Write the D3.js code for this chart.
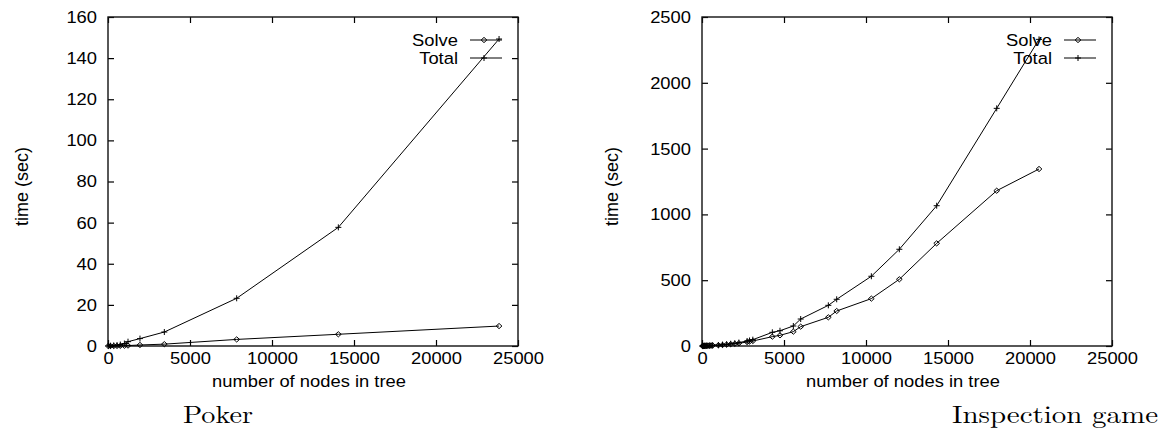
<!DOCTYPE html>
<html>
<head>
<meta charset="utf-8">
<script src="https://cdn.jsdelivr.net/npm/d3@7"></script>
<style>
  body { margin: 0; background: #fff; }
  svg { display: block; }
  .tick line { stroke: #000; }
  text { fill: #000; }
</style>
</head>
<body>
<div id="chart"></div>
<script>
// --- data ---
const pokerNodes = [20, 150, 350, 550, 750, 1000, 1220, 1950, 3435, 7846, 14045, 23845];
const pokerTotal = [0.02, 0.1, 0.25, 0.45, 0.7, 1.2, 2.1, 3.6, 6.8, 23.2, 57.7, 149.3];
const pokerSolve = [0.0, 0.01, 0.03, 0.05, 0.08, 0.12, 0.2, 0.5, 0.9, 3.2, 5.7, 9.7];

const inspNodes = [30, 60, 100, 150, 200, 280, 360, 450, 550, 650, 1000, 1250, 1500, 1750, 2000, 2250,
  2750, 2900, 3100, 4289, 4756, 5569, 6018, 7703, 8213, 10326, 12033, 14310, 17970, 20550];
const inspTotal = [0, 0.3, 0.6, 1, 1.4, 2, 2.6, 3.2, 4, 5, 7, 10, 13, 17, 21, 26,
  38, 42, 48, 104, 116, 152, 205, 309, 355, 530, 735, 1066, 1806, 2330];
const inspSolve = [0, 0.25, 0.5, 0.8, 1.1, 1.6, 2.1, 2.6, 3.3, 4, 6, 8, 11, 14, 17, 21,
  30, 34, 38, 71, 81, 109, 147, 218, 266, 360, 507, 780, 1180, 1345];

const xTicks = [0, 5000, 10000, 15000, 20000, 25000];
const pokerYTicks = [0, 20, 40, 60, 80, 100, 120, 140, 160];
const inspYTicks = [0, 500, 1000, 1500, 2000, 2500];
const seriesNames = ["Solve", "Total"];
const titles = ["Poker", "Inspection game"];

const W = 1161, H = 432;
const SX = 1.08; // the figure is stretched sideways a bit
const FS = 17;
const fmt = d3.format("d");

const svg = d3.select("#chart").append("svg")
  .attr("width", W).attr("height", H)
  .style("font-family", "'Liberation Sans', Arial, sans-serif");

function diamond(g, x, y) {
  let r = 2.6;
  g.append("path")
    .attr("d", `M${x - r * 1.1},${y}L${x},${y - r}L${x + r * 1.1},${y}L${x},${y + r}Z`)
    .attr("fill", "none").attr("stroke", "#000").attr("stroke-width", 1);
}
function plus(g, x, y) {
  let r = 3;
  g.append("path")
    .attr("d", `M${x - r},${y}H${x + r}M${x},${y - r}V${y + r}`)
    .attr("stroke", "#000").attr("stroke-width", 1);
}

function panel(opts) {
  let pw = 410, ph = 329;
  let g = svg.append("g").attr("transform", `translate(${opts.left} 17)`);

  let x = d3.scaleLinear().domain([0, 25000]).range([0, pw]);
  let y = d3.scaleLinear().domain([0, opts.ymax]).range([ph, 0]);

  // axes with inward ticks
  let ax = g.append("g").attr("transform", `translate(0 ${ph})`)
    .call(d3.axisBottom(x).tickValues(xTicks).tickFormat(fmt)
      .tickSizeInner(-6).tickSizeOuter(0).tickPadding(18));
  let ay = g.append("g")
    .call(d3.axisLeft(y).tickValues(opts.yticks).tickFormat(fmt)
      .tickSizeInner(-6).tickSizeOuter(0).tickPadding(11));
  g.append("g").attr("transform", `translate(${pw} 0)`)
    .call(d3.axisRight(y).tickValues(opts.yticks).tickSizeInner(-6).tickSizeOuter(0).tickFormat(""));
  g.append("g")
    .call(d3.axisTop(x).tickValues(xTicks).tickSizeInner(-6).tickSizeOuter(0).tickFormat(""));
  g.selectAll(".domain").remove();
  g.selectAll(".tick line").attr("stroke-width", 1.2);

  g.selectAll(".tick text")
    .attr("font-size", FS).attr("font-family", "'Liberation Sans', Arial, sans-serif")
    .attr("transform", `scale(${SX},1)`);
  ay.selectAll(".tick text").attr("x", -11 / SX);
  ax.selectAll(".tick text").attr("dy", "0");

  g.append("rect").attr("width", pw).attr("height", ph)
    .attr("fill", "none").attr("stroke", "#111").attr("stroke-width", 1.4);

  // series
  let line = d3.line().x(d => x(d[0])).y(d => y(d[1]));
  let solve = d3.zip(opts.nodes, opts.solve);
  let total = d3.zip(opts.nodes, opts.total);
  g.append("path").datum(solve).attr("d", line)
    .attr("fill", "none").attr("stroke", "#000").attr("stroke-width", 1);
  g.append("path").datum(total).attr("d", line)
    .attr("fill", "none").attr("stroke", "#000").attr("stroke-width", 1);
  solve.forEach(d => diamond(g, x(d[0]), y(d[1])));
  total.forEach(d => plus(g, x(d[0]), y(d[1])));

  // key
  seriesNames.forEach((name, i) => {
    let ly = 23 + i * 18;
    g.append("text")
      .attr("transform", `translate(${pw - 60} ${ly + 6}) scale(${SX},1)`)
      .attr("text-anchor", "end").attr("font-size", FS).text(name);
    g.append("line").attr("x1", pw - 48).attr("x2", pw - 16)
      .attr("y1", ly).attr("y2", ly).attr("stroke", "#000").attr("stroke-width", 1);
    if (i == 0) diamond(g, pw - 34, ly); else plus(g, pw - 34, ly);
  });

  // axis labels
  g.append("text")
    .attr("transform", `translate(${pw / 2 - 4} ${ph + 41}) scale(${SX},1)`)
    .attr("text-anchor", "middle").attr("font-size", FS).text("number of nodes in tree");
  g.append("text")
    .attr("transform", `translate(${opts.ylabX} ${ph / 2 + 5}) rotate(-90)`)
    .attr("text-anchor", "middle").attr("font-size", 18).text("time (sec)");

  // caption under the panel
  svg.append("text")
    .attr("x", opts.titleX).attr("y", 423)
    .attr("text-anchor", opts.titleAnchor)
    .attr("font-family", "'Latin Modern Roman', 'Liberation Serif', 'DejaVu Serif', serif")
    .attr("font-size", 24)
    .attr("textLength", opts.titleLen).attr("lengthAdjust", "spacingAndGlyphs")
    .text(opts.title);
}

panel({
  left: 108, ymax: 160, yticks: pokerYTicks,
  nodes: pokerNodes, solve: pokerSolve, total: pokerTotal,
  ylabX: -80, title: titles[0], titleX: 183, titleAnchor: "start", titleLen: 70
});
panel({
  left: 702, ymax: 2500, yticks: inspYTicks,
  nodes: inspNodes, solve: inspSolve, total: inspTotal,
  ylabX: -84, title: titles[1], titleX: 952, titleAnchor: "start", titleLen: 206
});
</script>
</body>
</html>
